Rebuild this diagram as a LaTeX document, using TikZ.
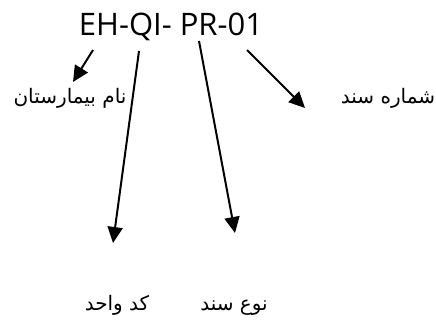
\documentclass[tikz,border=0pt]{standalone}
\usepackage{fontspec}
\usetikzlibrary{arrows.meta}
\TeXXeTstate=1
\newfontfamily\titlefont{Open Sans}
\newfontfamily\arabicfont[Script=Arabic]{DejaVu Sans}
\tikzset{
  code/.style={font=\titlefont\fontsize{31}{34}\selectfont, inner sep=0pt, anchor=base},
  part/.style={font=\arabicfont\fontsize{20}{24}\selectfont, inner sep=0pt, anchor=base},
  pointer/.style={line width=2pt, -{Triangle[length=16pt,width=15pt]}}
}
\begin{document}
\begin{tikzpicture}[x=1pt,y=-1pt]
  \useasboundingbox (0,0) rectangle (436,320);
  % document code
  \node[code] (title) at (171,36) {EH-QI- PR-01};
  % labels for each segment of the code
  \node[part] (hosp) at (70,104) {\beginR نام بیمارستان\endR};
  \node[part] (docno) at (388,104) {\beginR شماره سند\endR};
  \node[part] (unit) at (117,310) {\beginR کد واحد\endR};
  \node[part] (doctype) at (234,310) {\beginR نوع سند\endR};
  % arrow end points
  \coordinate (s1) at (93,50);   \coordinate (e1) at (73,82);
  \coordinate (s2) at (139,51);  \coordinate (e2) at (113,243);
  \coordinate (s3) at (199,41);  \coordinate (e3) at (235,233);
  \coordinate (s4) at (247,50);  \coordinate (e4) at (305,108);
  \draw[pointer] (s1) -- (e1);
  \draw[pointer] (s2) -- (e2);
  \draw[pointer] (s3) -- (e3);
  \draw[pointer] (s4) -- (e4);
\end{tikzpicture}
\end{document}
